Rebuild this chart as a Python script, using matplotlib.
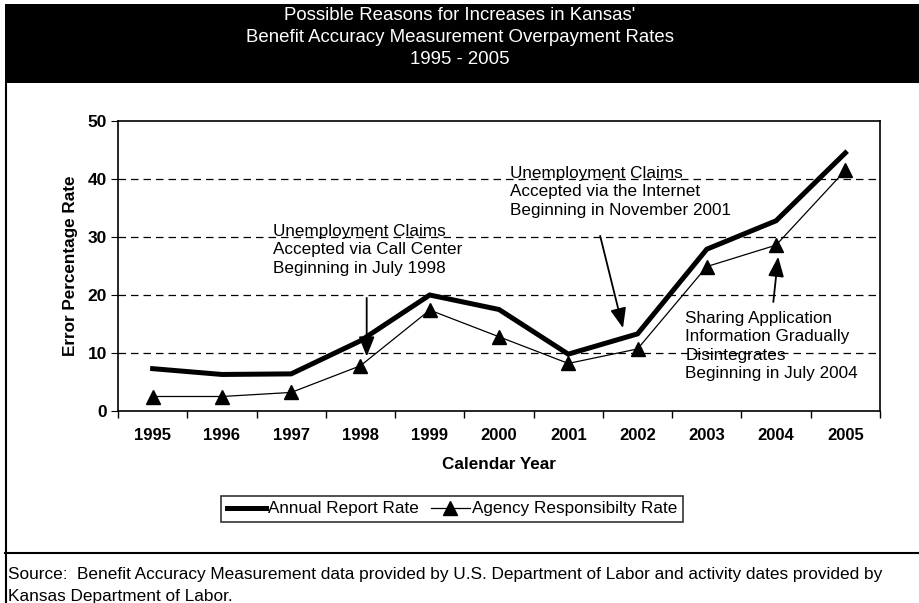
import matplotlib.pyplot as plt
from matplotlib.patches import Rectangle
from matplotlib.lines import Line2D

plt.rcParams['font.family'] = ['Liberation Sans', 'DejaVu Sans']

years = ['1995', '1996', '1997', '1998', '1999', '2000',
         '2001', '2002', '2003', '2004', '2005']
annual_report = [7.3, 6.3, 6.4, 12.1, 20.0, 17.5, 9.8, 13.3, 27.9, 32.8, 44.5]
agency_resp = [2.5, 2.5, 3.2, 7.8, 17.4, 12.8, 8.2, 10.7, 24.9, 28.6, 41.5]

W, H = 919, 603
fig = plt.figure(figsize=(W / 100, H / 100), dpi=100)

def fx(px):
    return px / W

def fy(py):
    return 1 - py / H

# black title band
fig.patches.append(Rectangle((fx(5), fy(83)), fx(914), 79 / H, transform=fig.transFigure,
                             facecolor='black', edgecolor='none'))
title_lines = ["Possible Reasons for Increases in Kansas'",
               "Benefit Accuracy Measurement Overpayment Rates",
               "1995 - 2005"]
for line, py in zip(title_lines, [15, 37, 60]):
    fig.text(fx(460), fy(py), line, color='white', fontsize=13.4,
             ha='center', va='center')

# frame lines around the chart and source note
fig.add_artist(Line2D([fx(5.5), fx(5.5)], [fy(83), 0], color='black', lw=1.5))
fig.add_artist(Line2D([fx(5), 1], [fy(553), fy(553)], color='black', lw=1.5))

ax = fig.add_axes([fx(118), fy(411), fx(880 - 118), (411 - 121) / H])
x = list(range(len(years)))
ax.plot(x, annual_report, color='black', lw=3.6, solid_joinstyle='miter',
        label='Annual Report Rate')
ax.plot(x, agency_resp, color='black', lw=0.9, marker='^', markersize=9.5,
        label='Agency Responsibilty Rate')

ax.set_xlim(-0.5, len(years) - 0.5)
ax.set_ylim(0, 50)
ax.set_yticks([0, 10, 20, 30, 40, 50])
ax.set_xticks(x)
ax.set_xticklabels(years)
ax.set_xticks([i - 0.5 for i in range(len(years) + 1)], minor=True)
ax.tick_params(axis='x', which='major', length=0, pad=12, labelsize=12)
ax.tick_params(axis='x', which='minor', length=5, direction='out', width=1)
ax.tick_params(axis='y', length=5, direction='out', pad=3, labelsize=12.5)
for lab in ax.get_xticklabels() + ax.get_yticklabels():
    lab.set_fontweight('bold')
for y in [10, 20, 30, 40]:
    ax.axhline(y, color='black', lw=0.9, ls=(0, (6, 4)), zorder=0)
for s in ax.spines.values():
    s.set_linewidth(1.2)

ax.set_ylabel('Error Percentage Rate', fontsize=12.3, fontweight='bold', labelpad=7)
ax.set_xlabel('Calendar Year', fontsize=12.3, fontweight='bold', labelpad=10)

arrow = dict(arrowstyle='-|>,head_length=0.55,head_width=0.22', lw=1.3,
             color='black', mutation_scale=22, shrinkA=0, shrinkB=0)
ax.annotate('', xy=(3.09, 9.4), xytext=(3.09, 19.5), arrowprops=arrow)
ax.annotate('', xy=(6.79, 14.3), xytext=(6.46, 30.2), arrowprops=arrow)
ax.annotate('', xy=(9.03, 26.6), xytext=(8.96, 18.8), arrowprops=arrow)

note_kw = dict(fontsize=12.3, ha='left', va='center', linespacing=1.3)
ax.text(1.74, 27.8, 'Unemployment Claims\nAccepted via Call Center\nBeginning in July 1998',
        **note_kw)
ax.text(5.16, 37.8, 'Unemployment Claims\nAccepted via the Internet\nBeginning in November 2001',
        **note_kw)
ax.text(7.69, 11.2, 'Sharing Application\nInformation Gradually\nDisintegrates\nBeginning in July 2004',
        **note_kw)

leg = fig.legend(loc='center', bbox_to_anchor=(fx(452), fy(509)), ncol=2,
                 frameon=True, fancybox=False, edgecolor='black', fontsize=12.3,
                 handlelength=2.3, handletextpad=0.1, columnspacing=0.7,
                 borderpad=0.35)
leg.get_frame().set_linewidth(1.2)

fig.text(fx(8), fy(575), 'Source:  Benefit Accuracy Measurement data provided by U.S. '
         'Department of Labor and activity dates provided by', fontsize=12.4,
         ha='left', va='center')
fig.text(fx(8), fy(597), 'Kansas Department of Labor.', fontsize=12.4,
         ha='left', va='center')

fig.savefig('out.png', dpi=100)
